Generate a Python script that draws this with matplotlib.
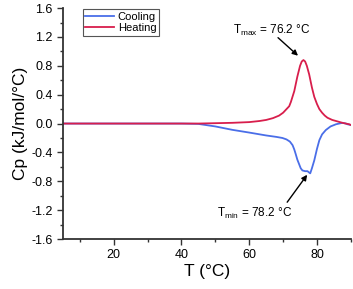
import numpy as np
import matplotlib
matplotlib.use("Agg")
import matplotlib.pylab as plt
from matplotlib.ticker import MultipleLocator

plt.rcParams["font.family"] = ["Liberation Sans", "DejaVu Sans"]

# Cooling scan (T in C, Cp in kJ/mol/C)
cool_T = [5, 10, 20, 30, 40, 45, 50, 55, 60, 65, 68, 69.8, 71, 72, 72.8, 73.3,
          73.7, 74.2, 74.7, 75.2, 75.7, 76.5, 77.2, 77.7, 78, 78.5, 79.2, 80,
          80.7, 81.5, 82.6, 84, 85.6, 87.5, 88.5, 89, 90]
cool_Cp = [0.0, 0.0, 0.0, 0.0, 0.0, -0.005, -0.04, -0.087, -0.125, -0.165,
           -0.185, -0.2, -0.22, -0.25, -0.3, -0.36, -0.42, -0.5, -0.56, -0.62,
           -0.65, -0.66, -0.66, -0.68, -0.69, -0.62, -0.51, -0.35, -0.23,
           -0.15, -0.09, -0.04, -0.01, 0.01, 0.0, -0.01, -0.02]

# Heating scan
heat_T = [5, 10, 20, 30, 40, 45, 50, 55, 60, 63, 65, 67, 68.8, 70, 71, 71.8,
          72.3, 73.3, 74.2, 75, 75.5, 76, 76.5, 77, 77.7, 78.5, 79.2, 80, 80.7,
          81.5, 82.3, 83.1, 84.5, 86, 87.5, 88.5, 89.5, 90]
heat_Cp = [0.0, 0.0, 0.0, 0.0, 0.0, 0.0, 0.005, 0.01, 0.02, 0.035, 0.05,
           0.075, 0.11, 0.15, 0.2, 0.24, 0.3, 0.45, 0.65, 0.8, 0.86, 0.88,
           0.86, 0.8, 0.68, 0.5, 0.37, 0.27, 0.2, 0.15, 0.11, 0.08, 0.05,
           0.03, 0.01, 0.0, -0.01, -0.02]

fig = plt.figure(figsize=(3.53, 2.89), dpi=100)
ax = fig.add_axes([0.178, 0.173, 0.816, 0.799])

ax.plot(cool_T, cool_Cp, color="#4a6ee8", lw=1.3, label="Cooling")
ax.plot(heat_T, heat_Cp, color="#d81e4c", lw=1.3, label="Heating")

ax.set_xlim(5, 90)
ax.set_ylim(-1.6, 1.6)
ax.xaxis.set_major_locator(MultipleLocator(20))
ax.xaxis.set_minor_locator(MultipleLocator(10))
ax.yaxis.set_major_locator(MultipleLocator(0.4))
ax.yaxis.set_minor_locator(MultipleLocator(0.2))
ax.yaxis.set_major_formatter(matplotlib.ticker.FormatStrFormatter("%.1f"))

for s in ["top", "right"]:
    ax.spines[s].set_visible(False)
for s in ["left", "bottom"]:
    ax.spines[s].set_linewidth(1.3)
    ax.spines[s].set_color("#333333")
ax.tick_params(which="major", direction="out", length=4, width=1, color="#333333", labelsize=9)
ax.tick_params(which="minor", direction="out", length=2.5, width=1, color="#333333")

ax.set_xlabel("T (°C)", fontsize=12.5, labelpad=2)
ax.set_ylabel("Cp (kJ/mol/°C)", fontsize=12.5, labelpad=2)

leg = ax.legend(loc="upper left", bbox_to_anchor=(0.069, 0.997), borderaxespad=0,
                fontsize=8, fancybox=False, framealpha=1, edgecolor="#555555",
                handlelength=2.6, handletextpad=0.3, borderpad=0.25, labelspacing=0.15)
leg.get_frame().set_linewidth(0.8)

# peak annotations: text and arrow separately
arrow = dict(arrowstyle="-|>", color="black", lw=1, shrinkA=0, shrinkB=0, mutation_scale=8)
ax.text(66.6, 1.29, r"T$_{\mathregular{max}}$ = 76.2 °C", ha="center", va="center", fontsize=8.5)
ax.annotate("", xy=(74.4, 0.94), xytext=(68.5, 1.19), arrowprops=arrow)
ax.text(61.5, -1.24, r"T$_{\mathregular{min}}$ = 78.2 °C", ha="center", va="center", fontsize=8.5)
ax.annotate("", xy=(77.1, -0.71), xytext=(71.2, -1.09), arrowprops=arrow)

plt.savefig("out.png", dpi=100)
